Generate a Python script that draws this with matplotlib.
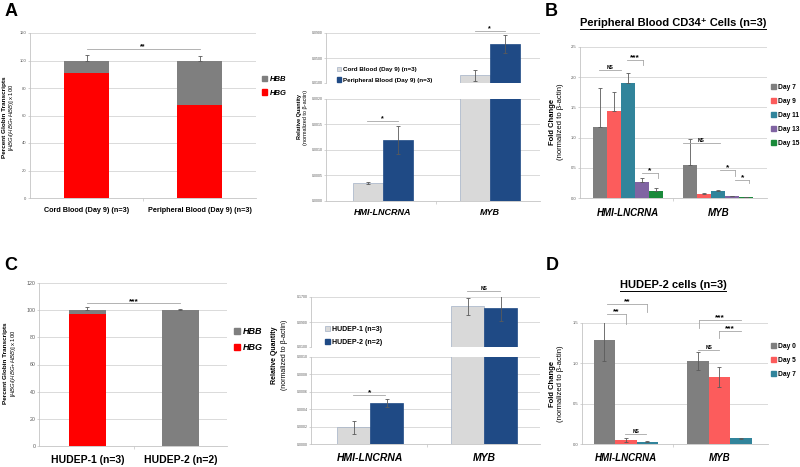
import matplotlib.pyplot as plt
from matplotlib.patches import Patch
from matplotlib.lines import Line2D
import numpy as np

plt.rcParams['font.family'] = ['Liberation Sans', 'DejaVu Sans']
plt.rcParams['mathtext.fontset'] = 'custom'
plt.rcParams['mathtext.rm'] = 'Liberation Sans'
plt.rcParams['mathtext.it'] = 'Liberation Sans:italic'
plt.rcParams['mathtext.bf'] = 'Liberation Sans:bold'

# ---- data ----
genes = ['HMI-LNCRNA', 'MYB']

# A: percent globin transcripts
a_groups = ['Cord Blood (Day 9) (n=3)', 'Peripheral Blood (Day 9) (n=3)']
a_hbg = [91, 68]
a_hbb = [9, 32]
a_err = [4, 3]

# A: relative quantity
a_series = ['Cord Blood (Day 9) (n=3)', 'Peripheral Blood (Day 9) (n=3)']
a_cord = [0.00035, 0.0224]
a_cord_err = [0.00002, 0.0086]
a_pb = [0.0012, 0.0727]
a_pb_err = [0.00028, 0.0146]

# B: peripheral blood CD34+ time course
b_days = ['Day 7', 'Day 9', 'Day 11', 'Day 13', 'Day 15']
b_vals = [[1.17, 0.55], [1.44, 0.07], [1.90, 0.11], [0.26, 0.03], [0.12, 0.015]]
b_err = [[0.65, 0.42], [0.32, 0.02], [0.17, 0.03], [0.07, 0.01], [0.05, 0.005]]

# C: percent globin transcripts
c_groups = ['HUDEP-1 (n=3)', 'HUDEP-2 (n=2)']
c_hbg = [97, 0]
c_hbb = [3, 100]
c_err = [2, 0.5]

# C: relative quantity
c_series = ['HUDEP-1 (n=3)', 'HUDEP-2 (n=2)']
c_h1 = [0.00019, 0.1405]
c_h1_err = [0.00008, 0.027]
c_h2 = [0.00047, 0.136]
c_h2_err = [0.00005, 0.042]

# D: HUDEP-2 time course
d_days = ['Day 0', 'Day 5', 'Day 7']
d_vals = [[1.29, 1.03], [0.05, 0.83], [0.03, 0.07]]
d_err = [[0.26, 0.11], [0.02, 0.12], [0.01, 0.005]]

# significance brackets: (x1, x2, y, label, tick_x, tick_end)
a_sig_left = [(0, 1, 108.5, '**', None, None)]
a_sig_low = [(-0.15, 0.14, 0.00157, '*', None, None)]
a_sig_up = [(0.86, 1.14, 0.0938, '*', None, None)]
b_sig = [(-0.32, -0.08, 2.12, 'NS', None, None),
         (-0.01, 0.17, 2.29, '***', 0.17, 2.21),
         (0.16, 0.33, 0.41, '*', 0.33, 0.33),
         (0.61, 1.02, 0.91, 'NS', None, None),
         (1.02, 1.19, 0.46, '*', 1.19, 0.36),
         (1.19, 1.34, 0.30, '*', 1.34, 0.25)]
c_sig_left = [(0, 1, 105, '***', None, None)]
c_sig_low = [(-0.15, 0.13, 0.00056, '*', None, None)]
c_sig_up = [(0.85, 1.14, 0.189, 'NS', None, None)]
d_sig = [(-0.2, 0.0, 1.61, '**', 0.0, 1.49),
         (-0.2, 0.23, 1.74, '**', 0.23, 1.64),
         (-0.01, 0.22, 0.12, 'NS', None, None),
         (0.77, 1.0, 1.16, 'NS', None, None),
         (0.78, 1.23, 1.54, '***', 0.78, 1.44),
         (1.0, 1.23, 1.40, '***', 1.0, 1.31)]

# ---- style ----
W, H = 800, 467
RED = '#ff0000'
GRAY = '#7f7f7f'
LIGHT = '#d9d9d9'
NAVY = '#1f4a85'
SALMON = '#fc5c5c'
TEAL = '#31849b'
PURPLE = '#8064a2'
GREEN = '#1a8a3a'
GRID = '#d4d4d4'
ERR = '#5a5a5a'
SIG = '#a6a6a6'
b_colors = [GRAY, SALMON, TEAL, PURPLE, GREEN]
d_colors = [GRAY, SALMON, TEAL]

fig = plt.figure(figsize=(8, 4.67), dpi=100)


def rect(x0, y0, x1, y1):
    return [x0 / W, 1 - y1 / H, (x1 - x0) / W, (y1 - y0) / H]


def fx(x):
    return x / W


def fy(y):
    return 1 - y / H


def style(ax, yticks, fmt, size=3, bottom=True):
    ax.set_yticks(yticks)
    ax.set_yticklabels([fmt.format(t) for t in yticks], fontsize=size, color='#595959')
    ax.set_ylim(yticks[0], yticks[-1])
    ax.grid(axis='y', color=GRID, lw=0.6)
    ax.set_axisbelow(True)
    ax.spines['top'].set_visible(False)
    ax.spines['right'].set_visible(False)
    ax.spines['left'].set_color('#c4c4c4')
    ax.spines['left'].set_linewidth(0.6)
    ax.spines['bottom'].set_color('#c4c4c4')
    ax.spines['bottom'].set_linewidth(0.6)
    ax.spines['bottom'].set_visible(bottom)
    ax.tick_params(axis='y', length=1.5, width=0.5, color='#c4c4c4', pad=1)
    ax.set_xticks([0.5] if bottom else [])
    ax.set_xticklabels([])
    ax.tick_params(axis='x', length=2.5, width=0.5, color='#c4c4c4')


def cat_labels(ax, labels, size, offset, italic=False):
    for i, lab in enumerate(labels):
        ax.annotate(lab, (i, 0), xycoords=('data', 'axes fraction'),
                    xytext=(0, -offset * 0.72), textcoords='offset points',
                    ha='center', va='center', fontsize=size, fontweight='bold',
                    style='italic' if italic else 'normal', annotation_clip=False)


def brackets(ax, sigs, size_star=5, size_ns=3.5):
    for x1, x2, y, lab, tx, ty in sigs:
        ax.plot([x1, x2], [y, y], color=SIG, lw=0.6, clip_on=False)
        if tx is not None:
            ax.plot([tx, tx], [y, ty], color=SIG, lw=0.6, clip_on=False)
        ns = lab == 'NS'
        ax.annotate(lab, ((x1 + x2) / 2, y), xytext=(0, 0.3 if ns else -1.0),
                    textcoords='offset points', ha='center', va='bottom',
                    fontsize=size_ns if ns else size_star, fontweight='bold',
                    annotation_clip=False)


def errbar(ax, x, v, e, upper_only=False):
    lower = np.zeros(len(e)) if upper_only else e
    ax.errorbar(x, v, yerr=[lower, e], fmt='none', ecolor=ERR, elinewidth=0.6,
                capsize=1.2, capthick=0.6)


def legend(handles, labels, x, y, size, italic=False, spacing=0.8):
    fig.legend(handles, labels, loc='upper left', bbox_to_anchor=(fx(x), fy(y)),
               frameon=False, prop={'size': size, 'weight': 'bold',
                                    'style': 'italic' if italic else 'normal'},
               handlelength=0.7, handleheight=0.7, handletextpad=0.3, borderpad=0,
               borderaxespad=0, labelspacing=spacing)


def ylabel(x1, x2, yc, line1, line2, s1, s2):
    fig.text(fx(x1), fy(yc), line1, rotation=90, ha='center', va='center',
             fontsize=s1, fontweight='bold')
    fig.text(fx(x2), fy(yc), line2, rotation=90, ha='center', va='center', fontsize=s2)


globin_lab = r'[$\it{HBG}$/($\it{HBG}$+$\it{HBB}$)] x 100'
norm_lab = '(normalized to \u03b2-actin)'


def globin_panel(ax, hbg, hbb, err, groups, xlim, size):
    x = np.arange(len(groups))
    ax.bar(x, hbg, 0.4, color=RED)
    ax.bar(x, hbb, 0.4, bottom=hbg, color=GRAY)
    tot = np.array(hbg) + np.array(hbb)
    errbar(ax, x, tot, np.array(err, dtype=float), upper_only=True)
    style(ax, [0, 20, 40, 60, 80, 100, 120], '{:.0f}', size=size)
    ax.set_xlim(*xlim)


def qty_panel(ax_top, ax_bot, g1, e1, g2, e2, w, xlim):
    x = np.arange(len(genes))
    for ax in (ax_top, ax_bot):
        ax.bar(x - w / 2, g1, w, color=LIGHT, edgecolor='#a3b1c6', lw=0.5)
        ax.bar(x + w / 2, g2, w, color=NAVY, edgecolor=NAVY, lw=0.5)
        errbar(ax, x - w / 2, g1, np.array(e1))
        errbar(ax, x + w / 2, g2, np.array(e2))
        ax.set_xlim(*xlim)


# ---- panel A left ----
axA = fig.add_axes(rect(30, 33, 256, 198))
globin_panel(axA, a_hbg, a_hbb, a_err, a_groups, (-0.5, 1.5), 3)
cat_labels(axA, a_groups, 5.2, 13)
brackets(axA, a_sig_left)
legend([Patch(color=GRAY), Patch(color=RED)], ['HBB', 'HBG'], 262, 76, 5.5, italic=True)
ylabel(5, 12, 117, 'Percent Globin Transcripts', globin_lab, 4.6, 4.2)

# ---- panel A middle (broken axis) ----
axAu = fig.add_axes(rect(326, 33, 540, 83))
axAl = fig.add_axes(rect(326, 99, 540, 201))
qty_panel(axAu, axAl, a_cord, a_cord_err, a_pb, a_pb_err, 0.28, (-0.53, 1.47))
style(axAu, [0.01, 0.05, 0.09], '{:.4f}', size=2.5, bottom=False)
style(axAl, [0, 0.0005, 0.001, 0.0015, 0.002], '{:.4f}', size=2.5)
cat_labels(axAl, genes, 6.5, 12, italic=True)
brackets(axAl, a_sig_low)
brackets(axAu, a_sig_up)
legend([Patch(facecolor=LIGHT, edgecolor='#a3b1c6', lw=0.5), Patch(color=NAVY)],
       a_series, 337, 67, 4.5)
ylabel(300, 306, 117, 'Relative Quantity', norm_lab, 4, 4)

# ---- panel B ----
axB = fig.add_axes(rect(580, 47, 767, 198))
wb = 0.155
xg = np.arange(len(genes))
for i, (day, vals, errs) in enumerate(zip(b_days, b_vals, b_err)):
    xs = xg + (i - 2) * wb
    axB.bar(xs, vals, wb, color=b_colors[i], label=day)
    errbar(axB, xs, vals, np.array(errs), upper_only=True)
style(axB, [0, 0.5, 1.0, 1.5, 2.0, 2.5], '{:.1f}', size=3)
axB.set_xlim(-0.53, 1.54)
cat_labels(axB, genes, 7, 15, italic=True)
brackets(axB, b_sig, size_star=6)
legend([Patch(color=c) for c in b_colors], b_days, 771, 84, 4.8, spacing=1.05)
ylabel(553, 561, 122, 'Fold Change', norm_lab, 5.5, 5.5)
tB = fig.text(fx(673), fy(23), 'Peripheral Blood CD34\u207a Cells (n=3)', ha='center',
              va='center', fontsize=8, fontweight='bold')

# ---- panel C left ----
axC = fig.add_axes(rect(39, 283, 227, 446))
globin_panel(axC, c_hbg, c_hbb, c_err, c_groups, (-0.52, 1.5), 3.8)
cat_labels(axC, c_groups, 7.5, 14)
brackets(axC, c_sig_left, size_star=6)
legend([Patch(color=GRAY), Patch(color=RED)], ['HBB', 'HBG'], 234, 327, 6.5, italic=True)
ylabel(6, 13, 363, 'Percent Globin Transcripts', globin_lab, 4.6, 4.2)

# ---- panel C middle (broken axis) ----
axCu = fig.add_axes(rect(311, 297, 540, 347))
axCl = fig.add_axes(rect(311, 357, 540, 444))
qty_panel(axCu, axCl, c_h1, c_h1_err, c_h2, c_h2_err, 0.29, (-0.52, 1.49))
style(axCu, [0.01, 0.09, 0.17], '{:.4f}', size=2.5, bottom=False)
style(axCl, [0, 0.0002, 0.0004, 0.0006, 0.0008, 0.001], '{:.4f}', size=2.5)
cat_labels(axCl, genes, 7.5, 14, italic=True)
brackets(axCl, c_sig_low, size_star=6)
brackets(axCu, c_sig_up)
legend([Patch(facecolor=LIGHT, edgecolor='#a3b1c6', lw=0.5), Patch(color=NAVY)],
       c_series, 325, 326, 5)
ylabel(275, 284, 355, 'Relative Quantity', norm_lab, 5, 5)

# ---- panel D ----
axD = fig.add_axes(rect(582, 323, 768, 444))
wd = 0.23
for i, (day, vals, errs) in enumerate(zip(d_days, d_vals, d_err)):
    xs = xg + (i - 1) * wd
    axD.bar(xs, vals, wd, color=d_colors[i], label=day)
    errbar(axD, xs, vals, np.array(errs))
style(axD, [0, 0.5, 1.0, 1.5], '{:.1f}', size=3)
axD.set_xlim(-0.47, 1.52)
cat_labels(axD, genes, 7, 14, italic=True)
brackets(axD, d_sig, size_star=6)
legend([Patch(color=c) for c in d_colors], d_days, 771, 343, 4.8, spacing=1.05)
ylabel(553, 561, 384, 'Fold Change', norm_lab, 5.5, 5.5)
tD = fig.text(fx(673), fy(285), 'HUDEP-2 cells (n=3)', ha='center', va='center',
              fontsize=8, fontweight='bold')

# panel letters
for lab, x, y in [('A', 11, 12), ('B', 551, 12), ('C', 11, 265), ('D', 552, 265)]:
    fig.text(fx(x), fy(y), lab, ha='center', va='center', fontsize=13, fontweight='bold')

# underline titles
fig.canvas.draw()
r = fig.canvas.get_renderer()
for t in (tB, tD):
    bb = t.get_window_extent(r).transformed(fig.transFigure.inverted())
    fig.add_artist(Line2D([bb.x0, bb.x1], [bb.y0 - 0.003, bb.y0 - 0.003],
                          transform=fig.transFigure, color='black', lw=0.7))

fig.savefig('out.png', dpi=100)
